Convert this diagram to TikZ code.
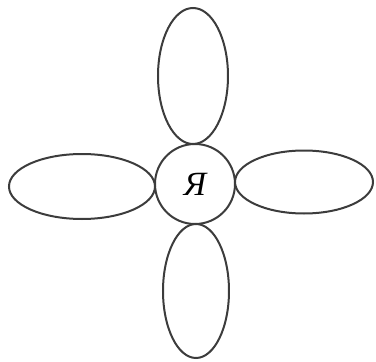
\documentclass[tikz,border=0pt]{standalone}
\usepackage{fontspec}
\setmainfont{Liberation Serif}
\usepackage{tikz}
\usetikzlibrary{positioning,shapes.geometric}
\definecolor{ink}{HTML}{3C3C3C}

\begin{document}
\begin{tikzpicture}[
  petal/.style={draw=ink, line width=2pt, ellipse, inner sep=0pt},
  core/.style={draw=ink, line width=2pt, circle, inner sep=0pt, minimum size=80pt,
    font=\fontsize{34}{34}\selectfont\itshape}
]
\useasboundingbox (-195pt,-178pt) rectangle (181pt,184pt);
\node[core] (ya) at (0,0) {Я};
\node[petal, minimum width=70pt, minimum height=136pt, above=-2pt of ya, xshift=-2pt] (top) {};
\node[petal, minimum width=66pt, minimum height=134pt, below=-2pt of ya, xshift=1pt] (bottom) {};
\node[petal, minimum width=146pt, minimum height=65pt, left=-2pt of ya, yshift=-2.5pt] (left) {};
\node[petal, minimum width=138pt, minimum height=63pt, right=-2pt of ya, yshift=2pt] (right) {};
\end{tikzpicture}
\end{document}
